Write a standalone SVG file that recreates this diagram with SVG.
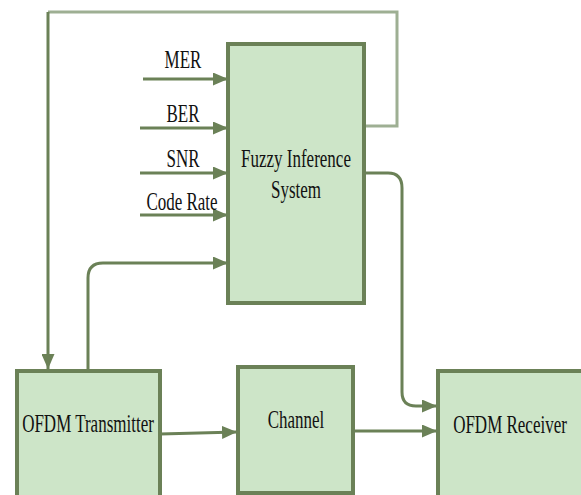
<svg xmlns="http://www.w3.org/2000/svg" width="581" height="495" viewBox="0 0 581 495">
<style>
.box{fill:#cde5c8;stroke:#6b8157;stroke-width:4}
.lbl{font-family:"Liberation Serif",serif;font-size:17px;fill:#111;text-anchor:middle}
.c{fill:none;stroke:#6b8157;stroke-width:3}
.lt{fill:none;stroke:#9eaf93;stroke-width:3}
</style>
<defs>
<marker id="ah2" markerWidth="15" markerHeight="13" refX="15" refY="6.5" orient="auto" markerUnits="userSpaceOnUse">
<path d="M0,0 L15,6.5 L0,13 z" fill="#6b8157"/>
</marker>
</defs>
<g id="connectors">
<path class="lt" d="M364,126 L397,126 L397,12 L48,12"/>
<path class="c" d="M48,12 L48,369" marker-end="url(#ah2)"/>
<path class="c" d="M143,79 L228,79" marker-end="url(#ah2)"/>
<path class="c" d="M140,128 L228,128" marker-end="url(#ah2)"/>
<path class="c" d="M140,173 L228,173" marker-end="url(#ah2)"/>
<path class="c" d="M140,215 L228,215" marker-end="url(#ah2)"/>
<path class="c" d="M88,369 L88,278 Q88,263 103,263 L228,263" marker-end="url(#ah2)"/>
<path class="c" d="M364,173 L388,173 Q402,173 402,188 L402,392 Q402,406 416,406 L437,406" marker-end="url(#ah2)"/>
<path class="c" d="M160,434 L237,432" marker-end="url(#ah2)"/>
<path class="c" d="M353,431 L437,431" marker-end="url(#ah2)"/>
</g>
<g id="labels">
<text class="lbl" transform="translate(183,68) scale(1,1.5)">MER</text>
<text class="lbl" transform="translate(183,122) scale(1,1.5)">BER</text>
<text class="lbl" transform="translate(183,167) scale(1,1.5)">SNR</text>
<text class="lbl" transform="translate(182,210) scale(1,1.5)">Code Rate</text>
</g>
<g id="fis">
<rect class="box" x="228" y="44" width="136" height="259"/>
<text class="lbl" transform="translate(296,167) scale(1,1.5)">Fuzzy Inference</text>
<text class="lbl" transform="translate(296,198) scale(1,1.5)">System</text>
</g>
<g id="tx">
<rect class="box" x="17" y="371" width="143" height="130"/>
<text class="lbl" transform="translate(88,432) scale(1,1.5)">OFDM Transmitter</text>
</g>
<g id="channel">
<rect class="box" x="238" y="367" width="115" height="126"/>
<text class="lbl" transform="translate(296,428) scale(1,1.5)">Channel</text>
</g>
<g id="rx">
<rect class="box" x="438" y="371" width="150" height="130"/>
<text class="lbl" transform="translate(510,433) scale(1,1.5)">OFDM Receiver</text>
</g>
</svg>
